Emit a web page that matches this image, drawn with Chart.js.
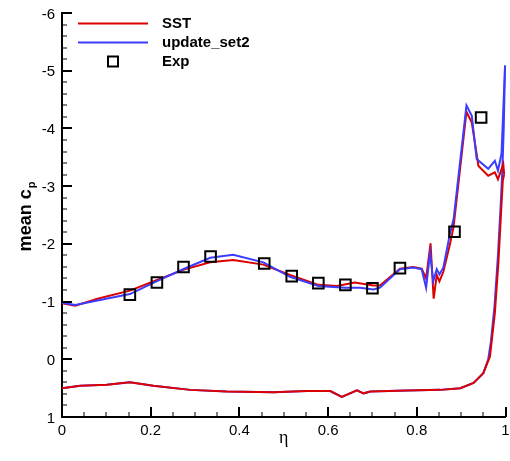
<!DOCTYPE html>
<html>
<head>
<meta charset="utf-8">
<script src="https://cdn.jsdelivr.net/npm/chart.js@4"></script>
<style>
  body{margin:0;background:#fff;overflow:hidden}
  #wrap{width:510px;height:461px;position:relative}
  canvas{display:block}
</style>
</head>
<body>
<div id="wrap"><canvas id="cpChart" width="510" height="461"></canvas></div>
<script>
// chart data (eta, mean cp)

// SST - upper side
const sstUpX = [0, 0.03, 0.08, 0.153, 0.213, 0.273, 0.334, 0.386, 0.454, 0.514, 0.578, 0.62, 0.66, 0.702, 0.717, 0.762, 0.792, 0.811, 0.821, 0.831, 0.838, 0.845, 0.851, 0.86, 0.875, 0.883, 0.912, 0.924, 0.939, 0.961, 0.976, 0.983, 0.995, 0.997]
const sstUpCp = [-0.97, -0.93, -1.05, -1.19, -1.37, -1.55, -1.68, -1.72, -1.64, -1.46, -1.29, -1.27, -1.33, -1.28, -1.28, -1.57, -1.6, -1.57, -1.4, -2.01, -1.05, -1.46, -1.35, -1.52, -2.0, -2.3, -4.29, -4.1, -3.35, -3.18, -3.24, -3.12, -3.38, -3.2]

// SST - lower side
const sstLowX = [0.997, 0.994, 0.99, 0.984, 0.976, 0.965, 0.95, 0.928, 0.898, 0.853, 0.778, 0.695, 0.68, 0.665, 0.631, 0.605, 0.552, 0.477, 0.371, 0.289, 0.206, 0.153, 0.101, 0.041, 0]
const sstLowCp = [-3.2, -3.1, -2.54, -1.67, -0.8, -0.05, 0.24, 0.41, 0.5, 0.53, 0.54, 0.56, 0.59, 0.54, 0.65, 0.55, 0.55, 0.57, 0.56, 0.53, 0.46, 0.4, 0.44, 0.46, 0.5]

// update_set2 - upper side
const updUpX = [0, 0.03, 0.08, 0.153, 0.213, 0.273, 0.334, 0.386, 0.454, 0.514, 0.578, 0.638, 0.672, 0.702, 0.717, 0.762, 0.792, 0.811, 0.821, 0.83, 0.837, 0.845, 0.851, 0.86, 0.875, 0.883, 0.912, 0.924, 0.935, 0.961, 0.976, 0.983, 0.991, 0.999]
const updUpCp = [-0.98, -0.94, -1.02, -1.13, -1.35, -1.56, -1.76, -1.81, -1.68, -1.43, -1.27, -1.24, -1.24, -1.21, -1.24, -1.56, -1.59, -1.56, -1.24, -1.85, -1.35, -1.56, -1.47, -1.59, -2.19, -2.43, -4.4, -4.22, -3.47, -3.3, -3.44, -3.27, -3.56, -5.09]

// update_set2 - lower side
const updLowX = [0.999, 0.996, 0.993, 0.989, 0.983, 0.975, 0.967, 0.961, 0.95, 0.928, 0.898, 0.853, 0.778, 0.695, 0.68, 0.665, 0.631, 0.605, 0.552, 0.477, 0.371, 0.289, 0.206, 0.153, 0.101, 0.041, 0]
const updLowCp = [-5.09, -4.0, -3.3, -2.65, -1.8, -0.9, -0.3, 0.0, 0.24, 0.41, 0.5, 0.53, 0.54, 0.56, 0.59, 0.54, 0.65, 0.55, 0.55, 0.57, 0.56, 0.53, 0.46, 0.4, 0.44, 0.46, 0.5]

// experiment
const expX = [0.153, 0.214, 0.274, 0.335, 0.456, 0.518, 0.578, 0.639, 0.7, 0.762, 0.885, 0.945]
const expCp = [-1.12, -1.33, -1.6, -1.78, -1.66, -1.44, -1.32, -1.29, -1.23, -1.58, -2.21, -4.19]

const xTicks = [0, 0.2, 0.4, 0.6, 0.8, 1]
const yTicks = [-6, -5, -4, -3, -2, -1, 0, 1]

const RED = '#dd0000'
const BLUE = '#3c3cff'
const FONT = '"Liberation Sans", Arial, sans-serif'

function pts(xs, ys) {
  return xs.map((x, i) => ({x: x, y: ys[i]}))
}

function lineSet(label, xs, ys, color) {
  return {
    label: label,
    data: pts(xs, ys),
    showLine: true,
    borderColor: color,
    borderWidth: 2,
    pointRadius: 0,
    fill: false,
    tension: 0,
    clip: 4
  }
}

// inward ticks, tick labels, legend and axis titles
const extras = {
  id: 'extras',
  afterDraw(chart) {
    const ctx = chart.ctx
    const xs = chart.scales.x
    const ys = chart.scales.y
    const a = chart.chartArea
    ctx.save()
    ctx.strokeStyle = '#000'
    // x ticks every 0.05
    for (let i = 0; i <= 20; i++) {
      const v = i * 0.05
      const px = Math.round(xs.getPixelForValue(v))
      const major = i % 4 === 0
      ctx.lineWidth = major ? 2 : 1
      ctx.beginPath()
      ctx.moveTo(px, a.bottom)
      ctx.lineTo(px, a.bottom - (major ? 10 : 5))
      ctx.stroke()
    }
    // y ticks every 0.2
    for (let i = 0; i <= 35; i++) {
      const v = -6 + i * 0.2
      const py = Math.round(ys.getPixelForValue(v))
      const major = i % 5 === 0
      ctx.lineWidth = major ? 2 : 1
      ctx.beginPath()
      ctx.moveTo(a.left, py)
      ctx.lineTo(a.left + (major ? 10 : 5), py)
      ctx.stroke()
    }

    // tick labels
    ctx.fillStyle = '#000'
    ctx.font = '15px ' + FONT
    ctx.textBaseline = 'alphabetic'
    ctx.textAlign = 'center'
    xTicks.forEach(v => {
      ctx.fillText(String(v), xs.getPixelForValue(v), a.bottom + 18)
    })
    ctx.textAlign = 'right'
    yTicks.forEach(v => {
      ctx.fillText(String(v), a.left - 7, ys.getPixelForValue(v) + 5.5)
    })

    // legend
    ctx.lineWidth = 2
    ctx.strokeStyle = RED
    ctx.beginPath(); ctx.moveTo(78, 23.5); ctx.lineTo(148, 23.5); ctx.stroke()
    ctx.strokeStyle = BLUE
    ctx.beginPath(); ctx.moveTo(78, 42.5); ctx.lineTo(148, 42.5); ctx.stroke()
    ctx.strokeStyle = '#000'
    ctx.strokeRect(108, 56.5, 10, 10)
    ctx.font = 'bold 15px ' + FONT
    ctx.textBaseline = 'middle'
    ctx.textAlign = 'left'
    ctx.fillText('SST', 162, 23.5)
    ctx.fillText('update_set2', 162, 42.5)
    ctx.fillText('Exp', 162, 61.5)

    // x title
    ctx.font = '18px "Liberation Serif", "DejaVu Serif", serif'
    ctx.textAlign = 'center'
    ctx.textBaseline = 'alphabetic'
    ctx.fillText('\u03b7', (a.left + a.right) / 2, 443)

    // y title, rotated
    ctx.translate(31, 217)
    ctx.rotate(-Math.PI / 2)
    ctx.font = 'bold 18px ' + FONT
    const main = 'mean c'
    const w1 = ctx.measureText(main).width
    ctx.font = 'bold 11px ' + FONT
    const w2 = ctx.measureText('p').width
    const x0 = -(w1 + w2) / 2
    ctx.textAlign = 'left'
    ctx.font = 'bold 18px ' + FONT
    ctx.fillText(main, x0, 0)
    ctx.font = 'bold 11px ' + FONT
    ctx.fillText('p', x0 + w1 + 1, 4)
    ctx.restore()
  }
}

new Chart(document.getElementById('cpChart'), {
  type: 'scatter',
  data: {
    datasets: [
      {
        label: 'Exp',
        data: pts(expX, expCp),
        pointStyle: 'rect',
        pointRadius: 7.5,
        pointBorderWidth: 2,
        pointBorderColor: '#000',
        pointBackgroundColor: 'rgba(0,0,0,0)',
        showLine: false,
        clip: 10
      },
      lineSet('update_set2', updUpX, updUpCp, BLUE),
      lineSet('SST', sstUpX, sstUpCp, RED),
      lineSet('SST lower', sstLowX, sstLowCp, RED),
      lineSet('update_set2 lower', updLowX, updLowCp, BLUE)
    ]
  },
  options: {
    responsive: false,
    animation: false,
    // autoPadding off, otherwise the marker size adds ~10px on the right
    layout: {autoPadding: false, padding: {top: 13, right: 4.5, left: 0, bottom: 0}},
    plugins: {
      legend: {display: false},
      tooltip: {enabled: false}
    },
    scales: {
      x: {
        type: 'linear',
        min: 0,
        max: 1,
        afterFit(scale) { scale.height = 44 },
        grid: {display: false, drawTicks: false},
        border: {display: true, color: '#000', width: 2},
        ticks: {display: false, stepSize: 0.2}
      },
      y: {
        type: 'linear',
        reverse: true,
        min: -6,
        max: 1,
        afterFit(scale) { scale.width = 62 },
        grid: {display: false, drawTicks: false},
        border: {display: true, color: '#000', width: 2},
        ticks: {display: false, stepSize: 1}
      }
    }
  },
  plugins: [extras]
})
</script>
</body>
</html>
